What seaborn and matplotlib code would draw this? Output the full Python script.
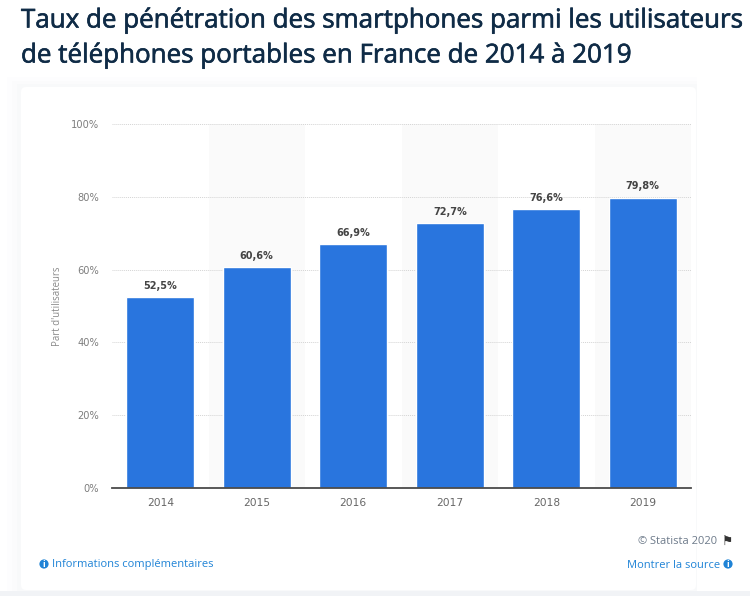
from __future__ import annotations

import matplotlib

matplotlib.use("Agg")
import matplotlib.patheffects as pe
import matplotlib.pyplot as plt
import pandas as pd
import seaborn as sns
from matplotlib.patches import Circle, FancyBboxPatch, Rectangle

WIDTH = 750
HEIGHT = 596

YEARS = ["2014", "2015", "2016", "2017", "2018", "2019"]
SHARES = [52.5, 60.6, 66.9, 72.7, 76.6, 79.8]
VALUE_LABELS = ["52,5%", "60,6%", "66,9%", "72,7%", "76,6%", "79,8%"]
Y_TICKS = [0, 20, 40, 60, 80, 100]
Y_TICK_LABELS = ["0%", "20%", "40%", "60%", "80%", "100%"]

TITLE_LINES = [
    "Taux de pénétration des smartphones parmi les utilisateurs",
    "de téléphones portables en France de 2014 à 2019",
]
Y_LABEL = "Part d'utilisateurs"
BLUE = "#2975de"
LINK = "#1f83d6"
TITLE_COLOR = "#0f2b46"


def px_x(x: float) -> float:
    return x / WIDTH


def px_y(y: float) -> float:
    return 1 - y / HEIGHT


def draw_card(fig: plt.Figure) -> None:
    # soft shadow around the card, then the white card on top
    for grow, shade in [(14, "#fdfdfe"), (9, "#fbfbfc"), (4, "#f8f9fa")]:
        fig.add_artist(Rectangle((px_x(21 - grow), px_y(596)), (676 + grow) / WIDTH,
                                 (596 - 87 + grow * 0.7) / HEIGHT, transform=fig.transFigure,
                                 facecolor=shade, edgecolor="none", zorder=-5))
    fig.add_artist(Rectangle((0, 0), 1, 5 / HEIGHT, transform=fig.transFigure,
                             facecolor="#f1f3f6", edgecolor="none", zorder=-4))
    fig.add_artist(FancyBboxPatch((21, HEIGHT - 590), 675, 503, boxstyle="round,pad=0,rounding_size=5",
                                  transform=None, facecolor="white", edgecolor="none", zorder=-3))


def draw_info_icon(fig: plt.Figure, x: float, y: float) -> None:
    fig.add_artist(Circle((x, HEIGHT - y), 4.6, transform=None, facecolor=LINK, edgecolor="none"))
    fig.text(px_x(x), px_y(y + 0.2), "i", color="white", fontsize=6.5, fontweight="bold",
             ha="center", va="center")


def main() -> None:
    sns.set_theme(style="white")
    plt.rcParams["font.family"] = ["Open Sans", "DejaVu Sans"]

    fig = plt.figure(figsize=(WIDTH / 100, HEIGHT / 100), dpi=100, facecolor="white")
    draw_card(fig)

    ax = fig.add_axes([px_x(112), px_y(488), (691 - 112) / WIDTH, (488 - 124) / HEIGHT])
    ax.patch.set_alpha(0)

    data = pd.DataFrame({"year": YEARS, "share": SHARES})
    sns.barplot(data=data, x="year", y="share", color=BLUE, saturation=1, width=0.7, ax=ax, zorder=3)

    ax.set_xlim(-0.5, len(YEARS) - 0.5)
    ax.set_ylim(0, 100)

    # alternate grey columns behind the bars
    for i in range(1, len(YEARS), 2):
        ax.axvspan(i - 0.5, i + 0.5, facecolor="#fafafa", edgecolor="none", zorder=0)

    ax.set_yticks(Y_TICKS, Y_TICK_LABELS)
    ax.grid(axis="y", color="#d4d4d4", linewidth=0.7, linestyle=(0, (1, 1)), zorder=1)
    ax.set_axisbelow(False)
    for gridline in ax.get_ygridlines():
        gridline.set_zorder(1)

    for spine in ["top", "left", "right"]:
        ax.spines[spine].set_visible(False)
    ax.spines["bottom"].set_color("#4a4a4a")
    ax.spines["bottom"].set_linewidth(1.3)
    ax.spines["bottom"].set_zorder(4)

    ax.tick_params(axis="y", length=0, pad=9.4, labelcolor="#7d7d7d")
    ax.tick_params(axis="x", length=0, pad=7.5, labelcolor="#666666")
    for label in ax.get_yticklabels():
        label.set_fontfamily(["DejaVu Sans"])
        label.set_fontsize(7.1)
    for label in ax.get_xticklabels():
        label.set_fontfamily(["DejaVu Sans"])
        label.set_fontsize(7.7)

    ax.set_xlabel("")
    ax.set_ylabel("")
    fig.text(px_x(58), px_y(306), Y_LABEL, rotation=90, ha="center", va="center", fontsize=6.9, color="#8a8a8a")

    ax.bar_label(ax.containers[0], labels=VALUE_LABELS, padding=4.5, fontsize=7.0, fontweight="bold",
                 color="#444444", family=["DejaVu Sans"])

    # regular weight with a thin outline sits closest to the medium weight of the title
    thicken = [pe.withStroke(linewidth=0.45, foreground=TITLE_COLOR)]
    for line, y in zip(TITLE_LINES, [21, 56]):
        fig.text(px_x(21), px_y(y), line, fontsize=18.7, color=TITLE_COLOR, ha="left", va="center",
                 path_effects=thicken)

    fig.text(px_x(717), px_y(542), "© Statista 2020", fontsize=8.0, color="#6d7a8a", ha="right", va="center")
    fig.text(px_x(722), px_y(541), "\u2691", fontsize=9, color="#333333", ha="left", va="center",
             family=["DejaVu Sans"])
    fig.text(px_x(720), px_y(565), "Montrer la source", fontsize=8.0, color=LINK, ha="right", va="center")
    draw_info_icon(fig, 728, 564)
    fig.text(px_x(52), px_y(565), "Informations complémentaires", fontsize=8.05, color=LINK, ha="left", va="center")
    draw_info_icon(fig, 44, 564)

    fig.savefig("out.png", dpi=100)
    plt.close(fig)


if __name__ == "__main__":
    main()
